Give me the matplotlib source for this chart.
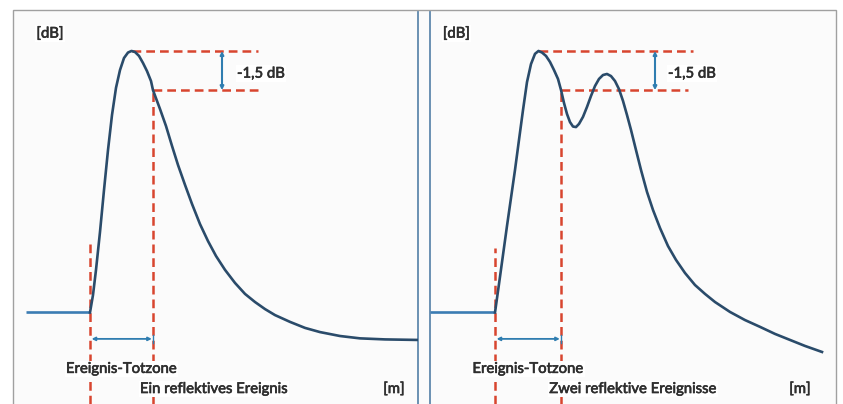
import matplotlib
matplotlib.use("Agg")
import matplotlib.pyplot as plt
from matplotlib.patches import Rectangle
import matplotlib.patheffects as pe

# ---------------- data (distance in m, level in dB) ----------------
left_x = [0, 16.0, 16.75, 17.5, 18.5, 19.5, 20.5, 21.5, 22.5, 23.5, 24.5, 25.5, 26.375,
          27.25, 28.25, 29.25, 30.25, 31.25, 31.75, 33.5, 35, 36.5, 38, 39.75, 41.5, 43.5,
          45.5, 47.5, 49.75, 52.25, 54.75, 57.25, 59.75, 62.25, 66, 69.75, 73.5, 78.5,
          83.5, 89.75, 97.75]
left_y = [0, 0, 0.67, 1.63, 3.08, 4.68, 6.21, 7.55, 8.59, 9.27, 9.73, 9.94, 10.0,
          9.96, 9.81, 9.54, 9.23, 8.85, 8.5, 7.78, 7.13, 6.37, 5.64, 4.88, 4.15, 3.38,
          2.73, 2.16, 1.63, 1.13, 0.71, 0.40, 0.13, -0.10, -0.36, -0.59, -0.75, -0.90,
          -0.99, -1.03, -1.05]

right_x = [0, 16.25, 17.25, 18.25, 19.25, 20.25, 21.25, 22.25, 23.25, 24.25, 25.25, 26.25,
           27.125, 28, 29, 30, 31, 32, 32.75, 33.5, 34.25, 35, 35.75, 36.5, 37.25, 38.25,
           39.25, 40.25, 41.25, 42.25, 43.25, 44.25, 45.25, 46.25, 47.25, 48.25, 49.25,
           50.25, 51.5, 52.75, 54.25, 55.75, 57.5, 59.5, 61.5, 63.75, 66.25, 68.75, 71.25,
           75, 78.75, 82.5, 86.25, 90, 93.75, 98]
right_y = [0, 0, 1.09, 2.20, 3.31, 4.38, 5.45, 6.60, 7.74, 8.81, 9.50, 9.89,
           10.0, 9.94, 9.81, 9.58, 9.27, 8.93, 8.51, 8.01, 7.59, 7.28, 7.11, 7.09, 7.21, 7.48,
           7.86, 8.28, 8.66, 8.93, 9.08, 9.12, 9.04, 8.85, 8.54, 8.09, 7.55,
           6.98, 6.21, 5.45, 4.61, 3.92, 3.23, 2.54, 2.01, 1.51, 1.05, 0.71, 0.40,
           0.02, -0.29, -0.55, -0.82, -1.05, -1.28, -1.51]

peak_db = 10.0
drop_db = 1.5
left_event_start, left_deadzone_end = 16.0, 31.75
right_event_start, right_deadzone_end = 16.25, 32.75
left_peak_x, right_peak_x = 26.375, 27.125

y_label = "[dB]"
x_label = "[m]"
drop_label = "-1,5 dB"
zone_label = "Ereignis-Totzone"
left_title = "Ein reflektives Ereignis"
right_title = "Zwei reflektive Ereignisse"

# ---------------- styling ----------------
W, H = 843, 404
plt.rcParams["font.family"] = ["Lato", "DejaVu Sans"]
RED = "#d8452f"
NAVY = "#2a4b6a"
BASE = "#3b7cb3"
ARROW = "#2f7db0"
DIV = "#5f88ad"
TXT = "#2e2e2e"
FS = 10.7
BOLDEN = [pe.withStroke(linewidth=0.45, foreground=TXT)]

fig = plt.figure(figsize=(W / 100, H / 100), dpi=100)
fig.patch.set_facecolor("white")

# frame (figure pixel coords)
bg = fig.add_axes([0, 0, 1, 1])
bg.set_xlim(0, W)
bg.set_ylim(H, 0)
bg.axis("off")
bg.add_patch(Rectangle((13, 9.5), 823, 420, facecolor="#fbfbfb",
                       edgecolor="#a0a0a0", linewidth=1.0))

ylo, yhi = -3.5, 11.49
BOX = dict(facecolor="white", edgecolor="none", pad=1.0)


def panel(rect, xmax, xs, ys, ev_start, dz_end, peak_x, ev_top, hline_end_top,
          hline_end_low, arrow_x, text_x, title, title_x, m_x, db_x, left_spine):
    ax = fig.add_axes(rect)
    ax.set_xlim(0, xmax)
    ax.set_ylim(ylo, yhi)
    ax.patch.set_alpha(0)
    ax.set_xticks([])
    ax.set_yticks([])
    for s in ax.spines.values():
        s.set_visible(False)
    side = "left" if left_spine else "right"
    ax.spines[side].set_visible(True)
    ax.spines[side].set_color(DIV)
    ax.spines[side].set_linewidth(1.3)

    dash = dict(color=RED, linewidth=1.8, linestyle=(0, (3.5, 2.0)), zorder=1)
    # dashed guides
    ax.plot([ev_start, ev_start], [ylo, ev_top], **dash)
    ax.plot([dz_end, dz_end], [ylo, peak_db - drop_db], **dash)
    ax.plot([peak_x, hline_end_top], [peak_db, peak_db], **dash)
    ax.plot([dz_end, hline_end_low], [peak_db - drop_db, peak_db - drop_db], **dash)

    # trace
    ax.plot(xs[:2], ys[:2], color=BASE, linewidth=1.9, solid_capstyle="butt", zorder=3)
    ax.plot(xs[1:], ys[1:], color=NAVY, linewidth=1.9, solid_joinstyle="round", zorder=3)

    # -1.5 dB arrow
    ax.annotate("", xy=(arrow_x, peak_db - drop_db), xytext=(arrow_x, peak_db),
                arrowprops=dict(arrowstyle="<|-|>", color=ARROW, lw=1.5,
                                mutation_scale=5, shrinkA=0, shrinkB=0))
    ax.text(text_x, 8.98, drop_label, fontsize=FS, color=TXT,
            ha="left", va="baseline", bbox=BOX, path_effects=BOLDEN)

    # dead zone arrow
    zy = -1.01
    ax.annotate("", xy=(dz_end - 0.3, zy), xytext=(ev_start + 0.4, zy),
                arrowprops=dict(arrowstyle="<|-|>", color=ARROW, lw=1.3,
                                mutation_scale=5, shrinkA=0, shrinkB=0))
    ax.plot([dz_end - 0.1, dz_end - 0.1], [zy - 0.15, zy + 0.15], color=ARROW, lw=1.0)

    ax.text((ev_start + dz_end) / 2, -2.31, zone_label, fontsize=FS, color=TXT,
            ha="center", va="baseline", bbox=BOX, zorder=4, path_effects=BOLDEN)
    ax.text(title_x, -3.08, title, fontsize=FS, color=TXT, ha="center",
            va="baseline", bbox=BOX, zorder=4, path_effects=BOLDEN)
    ax.text(m_x, -3.08, x_label, fontsize=FS, color=TXT, ha="center", va="baseline",
            path_effects=BOLDEN)
    ax.text(db_x, 10.51, y_label, fontsize=FS, color=TXT, ha="center", va="baseline",
            bbox=BOX, path_effects=BOLDEN)
    return ax


panel([26 / W, 0, 392 / W, 392 / H], 98, left_x, left_y, left_event_start,
      left_deadzone_end, left_peak_x, 2.66, 58, 59, 49, 52.75, left_title, 47, 92, 6,
      left_spine=False)
panel([430 / W, 0, 406 / W, 392 / H], 101.5, right_x, right_y, right_event_start,
      right_deadzone_end, right_peak_x, 2.47, 65.75, 64.5, 56.25, 59.5, right_title,
      50.75, 92.5, 6.6, left_spine=True)

fig.savefig("out.png", dpi=100, facecolor="white")
